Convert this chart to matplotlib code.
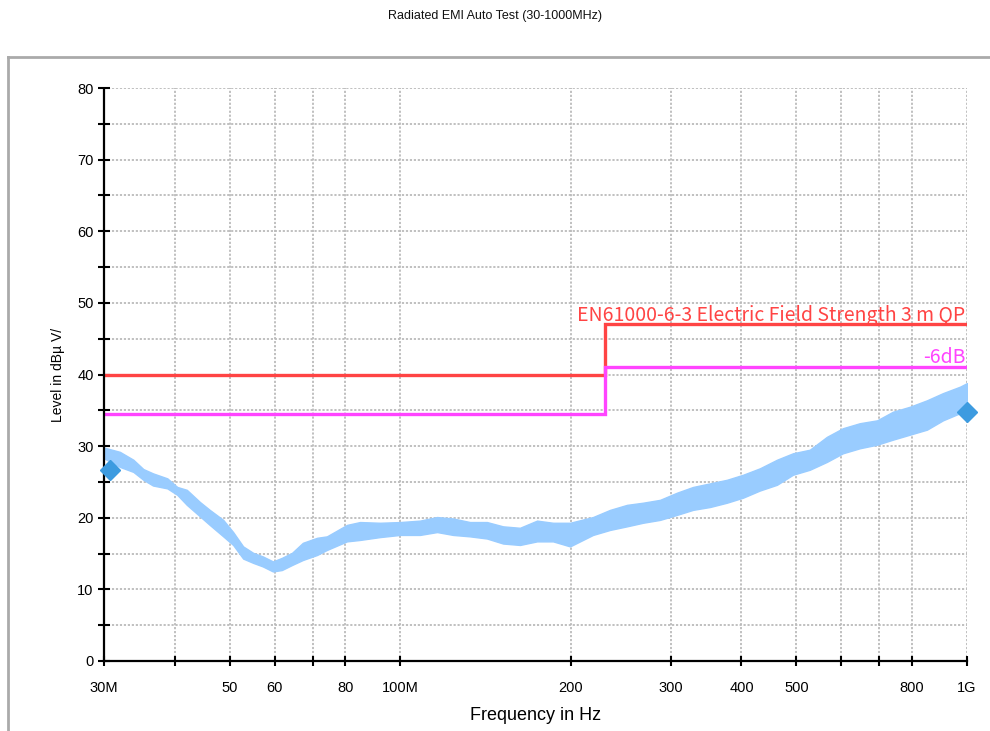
import matplotlib
matplotlib.use("Agg")
import matplotlib.pyplot as plt
from matplotlib.lines import Line2D
from matplotlib.ticker import FixedLocator, NullFormatter, FixedFormatter

# ---------------- data ----------------
title = "Radiated EMI Auto Test (30-1000MHz)"
xlabel = "Frequency in Hz"
ylabel = "Level in dBµ V/"

# measured trace envelope (MHz, lower dBµV, upper dBµV)
trace_freq = [30.0, 32.0, 33.8, 35.2, 36.6, 38.8, 40.4, 42.0, 44.3, 46.1, 48.7,
              50.7, 52.8, 55.0, 57.2, 59.6, 61.8, 64.4, 67.3, 71.3, 74.2, 80.5,
              84.9, 92.1, 99.9, 108.3, 116.1, 123.9, 132.7, 142.2, 151.8, 162.6,
              174.3, 186.0, 199.3, 218.8, 234.5, 251.2, 268.1, 287.3, 307.8,
              328.5, 352.0, 377.0, 402.5, 431.0, 462.0, 493.0, 528.0, 566.0,
              604.0, 647.0, 694.0, 740.0, 793.0, 850.0, 907.0, 972.0, 1000.0]
trace_lo = [28.3, 27.1, 26.4, 25.3, 24.5, 24.1, 23.2, 21.8, 20.2, 19.0, 17.4,
            16.2, 14.3, 13.7, 13.2, 12.5, 12.7, 13.4, 14.1, 14.8, 15.5, 16.7,
            16.9, 17.3, 17.6, 17.6, 18.0, 17.6, 17.4, 17.1, 16.4, 16.2,
            16.7, 16.7, 16.0, 17.6, 18.3, 18.8, 19.3, 19.7, 20.4,
            21.1, 21.5, 22.1, 22.8, 23.8, 24.6, 26.0, 26.7, 27.8,
            29.0, 29.7, 30.2, 30.9, 31.6, 32.3, 33.6, 34.6, 35.0]
trace_hi = [29.8, 29.2, 28.1, 26.8, 26.2, 25.5, 24.3, 23.9, 22.2, 21.1, 19.7,
            18.0, 16.0, 15.1, 14.6, 13.9, 14.4, 15.1, 16.5, 17.2, 17.4, 19.0,
            19.4, 19.3, 19.4, 19.6, 20.1, 19.9, 19.4, 19.4, 18.8, 18.6,
            19.6, 19.3, 19.3, 20.1, 21.1, 21.8, 22.1, 22.5, 23.5,
            24.3, 24.8, 25.3, 26.0, 26.9, 28.1, 29.0, 29.5, 31.3,
            32.5, 33.2, 33.6, 34.8, 35.5, 36.4, 37.4, 38.3, 38.8]

# limit lines
limit_freq = [30, 230, 230, 1000]
limit_level = [40, 40, 47, 47]
margin_level = [34.5, 34.5, 41, 41]
limit_label = "EN61000-6-3 Electric Field Strength 3 m QP"
margin_label = "-6dB"

# final (peak) markers
marker_freq = [30.7, 1000]
marker_level = [26.6, 34.7]

# axis ticks
xticks = [30, 40, 50, 60, 70, 80, 100, 200, 300, 400, 500, 600, 700, 800, 1000]
xticklabels = ["30M", "", "50", "60", "", "80", "100M", "200", "300", "400",
               "500", "", "", "800", "1G"]
yticks_major = [0, 10, 20, 30, 40, 50, 60, 70, 80]
yticks_minor = [5, 15, 25, 35, 45, 55, 65, 75]

# ---------------- figure ----------------
W, H = 990, 731
fig = plt.figure(figsize=(W / 100, H / 100), dpi=100)
plt.rcParams['font.family'] = ['Liberation Sans', 'DejaVu Sans']

# outer frame
fx = 8 / W
fy = 1 - 57 / H
fig.add_artist(Line2D([fx, fx], [0, fy], transform=fig.transFigure,
                      color="#aaaaaa", lw=2))
fig.add_artist(Line2D([fx, 1.0], [fy, fy], transform=fig.transFigure,
                      color="#aaaaaa", lw=2))

fig.text(0.5, 1 - 16 / H, title, ha="center", va="center", fontsize=9,
         color="#111111")

ax = fig.add_axes([104 / W, 1 - 661 / H, (967 - 104) / W, (661 - 88) / H])
ax.set_xscale("log")
ax.set_xlim(30, 1000)
ax.set_ylim(0, 80)

# grid
for y in range(5, 81, 5):
    ax.axhline(y, color="#bbbbbb", lw=1.3, ls=(0, (1.2, 1.0)), zorder=1)
for x in xticks[1:]:
    ax.axvline(x, color="#bbbbbb", lw=1.3, ls=(0, (1.2, 1.0)), zorder=1)

# trace
ax.fill_between(trace_freq, trace_lo, trace_hi, color="#99ccff",
                edgecolor="#99ccff", lw=1.0, zorder=3)

# limit lines
ax.plot(limit_freq, limit_level, color="#ff4444", lw=2.4, zorder=4,
        solid_joinstyle="miter")
ax.plot(limit_freq, margin_level, color="#ff44ff", lw=2.4, zorder=4,
        solid_joinstyle="miter")
lab_font = ["Noto Sans CJK SC", "DejaVu Sans"]
ax.text(0.998, 47.5 / 80, limit_label, color="#ff4444", fontsize=14,
        ha="right", va="baseline", family=lab_font, transform=ax.transAxes)
ax.text(0.998, 41.6 / 80, margin_label, color="#ff44ff", fontsize=14,
        ha="right", va="baseline", family=lab_font, transform=ax.transAxes)

# markers
ax.plot(marker_freq, marker_level, ls="none", marker="D", ms=10,
        color="#3d9be0", zorder=6, clip_on=False)

# spines
for s in ["top", "right"]:
    ax.spines[s].set_visible(False)
for s in ["left", "bottom"]:
    ax.spines[s].set_linestyle((0, (1.0, 1.0)))
    ax.spines[s].set_linewidth(1.6)
    ax.spines[s].set_color("black")
    ax.spines[s].set_zorder(5)

ax.xaxis.set_major_locator(FixedLocator(xticks))
ax.xaxis.set_major_formatter(FixedFormatter(xticklabels))
ax.xaxis.set_minor_locator(FixedLocator([]))
ax.xaxis.set_minor_formatter(NullFormatter())
ax.set_yticks(yticks_major)
ax.set_yticks(yticks_minor, minor=True)

ax.tick_params(axis="x", which="major", direction="inout", length=7,
               width=1.5, pad=11, labelsize=10.5, colors="black")
ax.tick_params(axis="y", which="both", direction="inout", length=9,
               width=1.5, pad=3, labelsize=10.5, colors="black")

ax.set_xlabel(xlabel, fontsize=13)
ax.xaxis.set_label_coords(0.5, -(716 - 661) / (661 - 88), transform=ax.transAxes)
ax.set_ylabel(ylabel, fontsize=10)
ax.yaxis.set_label_coords(-(104 - 58) / (967 - 104), (661 - 375) / (661 - 88))
ax.xaxis.label.set_va("center")
ax.yaxis.label.set_va("center")

fig.savefig("out.png", dpi=100)
